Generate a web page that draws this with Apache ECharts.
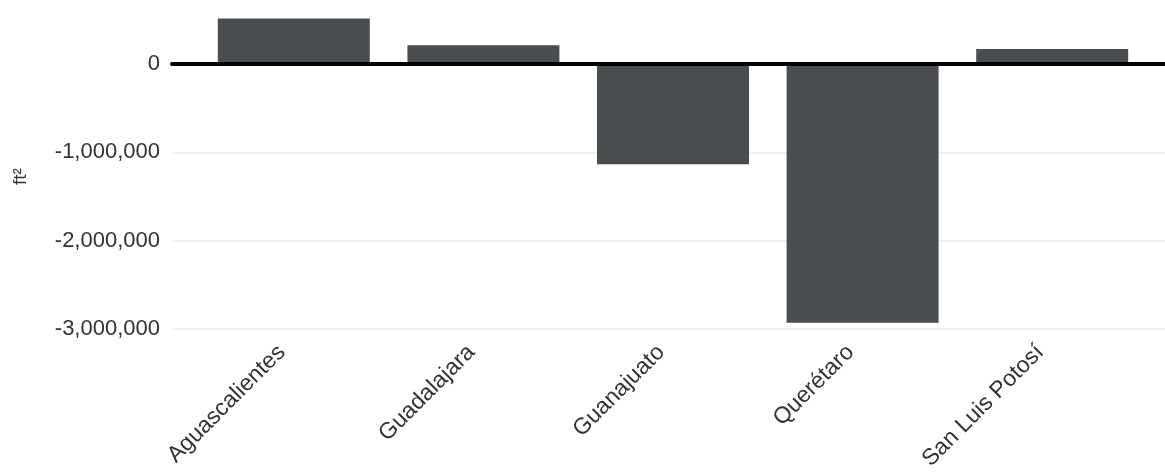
<!DOCTYPE html>
<html>
<head>
<meta charset="utf-8">
<script src="https://cdn.jsdelivr.net/npm/echarts@6/dist/echarts.min.js"></script>
<style>
  html, body { margin: 0; padding: 0; background: #fff; }
  #chart { width: 1165px; height: 473px; }
</style>
</head>
<body>
<div id="chart"></div>
<script>
const categories = ["Aguascalientes", "Guadalajara", "Guanajuato", "Querétaro", "San Luis Potosí"];
const values = [515000, 212000, -1135000, -2930000, 170000];
const yMin = -3000000;
const yMax = 724000;      // top of the visible plot
const yStep = 1000000;

const chart = echarts.init(document.getElementById("chart"));
const font = "Liberation Sans, Arial, sans-serif";

const option = {
  animation: false,
  grid: [
    // background grid: y labels, split lines and zero line
    { left: 172, right: 0, top: 0, bottom: 144, containLabel: false },
    // bars
    { left: 199, right: 18, top: 0, bottom: 144, containLabel: false },
    // category labels (sit a little left of the bar centres)
    { left: 187, right: 30, top: 0, bottom: 144, containLabel: false },
  ],
  xAxis: [
    {
      gridIndex: 0,
      type: "category",
      data: categories,
      z: 10,
      axisLine: { show: true, onZero: true, lineStyle: { color: "#000", width: 4 } },
      axisTick: { show: false },
      axisLabel: { show: false },
    },
    {
      gridIndex: 1,
      type: "category",
      data: categories,
      show: false,
    },
    {
      gridIndex: 2,
      type: "category",
      data: categories,
      axisLine: { show: false, onZero: false },
      axisTick: { show: false },
      axisLabel: {
        rotate: 45,
        interval: 0,
        margin: 36,
        color: "#333",
        fontSize: 23,
        fontFamily: font,
      },
    },
  ],
  yAxis: [
    {
      gridIndex: 0,
      type: "value",
      min: yMin,
      max: yMax,
      interval: yStep,
      axisLine: { show: false },
      axisTick: { show: false },
      splitLine: { showMaxLine: false, lineStyle: { color: "#ebebf2", width: 1.5 } },
      axisLabel: {
        showMaxLabel: false,
        margin: 12,
        color: "#333",
        fontSize: 22,
        fontFamily: font,
        formatter: (v) => v.toLocaleString("en-US"),
      },
    },
    {
      gridIndex: 1,
      type: "value",
      min: yMin,
      max: yMax,
      show: false,
    },
    {
      gridIndex: 2,
      type: "value",
      min: yMin,
      max: yMax,
      show: false,
    },
  ],
  graphic: [
    {
      type: "text",
      x: 11,
      y: 185,
      rotation: Math.PI / 2,
      style: { text: "ft²", fill: "#333", font: "19px " + font },
    },
  ],
  series: [
    {
      type: "bar",
      xAxisIndex: 1,
      yAxisIndex: 1,
      data: values,
      barWidth: 152,
      itemStyle: { color: "#4a4d50" },
    },
  ],
};

chart.setOption(option);
</script>
</body>
</html>
